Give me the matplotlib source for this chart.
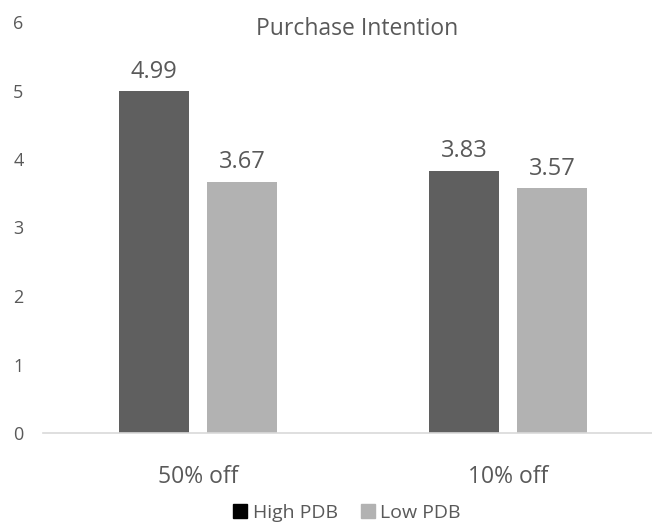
import numpy as np
import matplotlib
matplotlib.use("Agg")
import matplotlib.pyplot as plt

plt.rcParams['font.family'] = ['Open Sans', 'DejaVu Sans']

categories = ['50% off', '10% off']
series = ['High PDB', 'Low PDB']
high_pdb = [4.99, 3.83]
low_pdb = [3.67, 3.57]
colors = ['#5f5f5f', '#b2b2b2']
txt = '#595959'

fig = plt.figure(figsize=(6.52, 5.25), dpi=100)
ax = fig.add_axes([43 / 652, 1 - 433 / 525, 620 / 652, 411 / 525])

x = np.arange(len(categories))
w = 0.226
off = 0.142
for vals, dx, c, name in [(high_pdb, -off, colors[0], series[0]),
                          (low_pdb, off, colors[1], series[1])]:
    bars = ax.bar(x + dx, vals, w, color=c, label=name, zorder=2)
    for b, v in zip(bars, vals):
        ax.text(b.get_x() + b.get_width() / 2, v + 0.11, f'{v:.2f}',
                ha='center', va='bottom', fontsize=17, color=txt)

ax.set_xlim(-0.5, 1.5)
ax.set_ylim(0, 6)
ax.set_yticks(range(7))
ax.set_xticks(x)
ax.set_xticklabels(categories, fontsize=16.5, color=txt)
ax.tick_params(axis='x', length=0, pad=23)
ax.tick_params(axis='y', length=0, labelsize=13, labelcolor=txt, pad=14)
for s in ['top', 'right', 'left']:
    ax.spines[s].set_visible(False)
ax.spines['bottom'].set_color('#d9d9d9')
ax.spines['bottom'].set_linewidth(1.2)

fig.text(357 / 652, 1 - 29 / 525, 'Purchase Intention', ha='center', va='center',
         fontsize=16.5, color=txt)

handles = [plt.Rectangle((0, 0), 1, 1, color=c) for c in ['#000000', colors[1]]]
fig.legend(handles, series, loc='center', bbox_to_anchor=(347 / 652, 1 - 513 / 525),
           ncol=2, frameon=False, fontsize=14, labelcolor=txt,
           handlelength=0.7, handleheight=0.7, handletextpad=0.3, columnspacing=1.2)

fig.savefig('out.png', dpi=100)
